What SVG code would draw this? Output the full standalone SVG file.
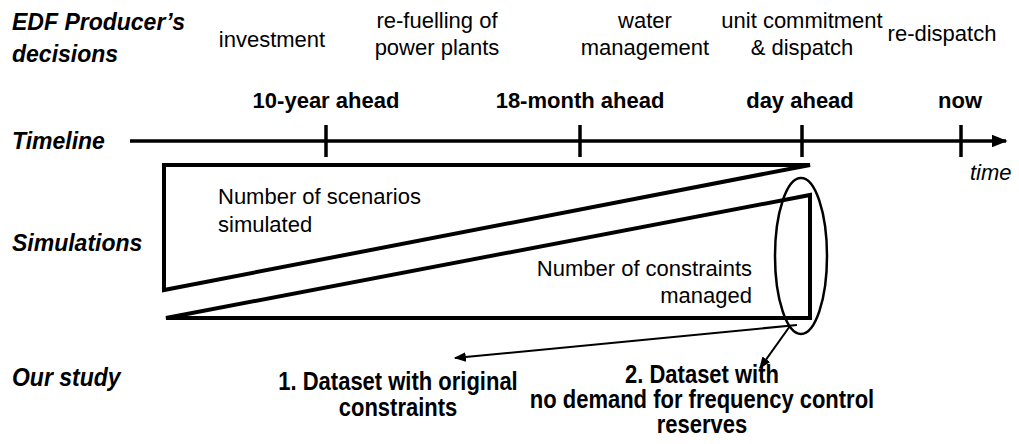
<svg xmlns="http://www.w3.org/2000/svg" width="1019" height="444" viewBox="0 0 1019 444">
<style>
text{font-family:"Liberation Sans",Arial,sans-serif;fill:#000}
.h{font-weight:bold;font-style:italic;font-size:23px}
.r{font-size:22px}
.b{font-weight:bold;font-size:22px}
.m{text-anchor:middle}
.shape{fill:none;stroke:#000;stroke-width:4;stroke-linejoin:miter}
.tick{stroke:#000;stroke-width:3.5}
.arr{stroke:#000;stroke-width:2;fill:none}
</style>
<defs>
<marker id="ah" viewBox="0 0 10 10" refX="9" refY="5" markerWidth="6" markerHeight="6" orient="auto" markerUnits="strokeWidth">
<path d="M0,1 L10,5 L0,9 Z" fill="#000"/>
</marker>
<marker id="ahT" viewBox="0 0 10 10" refX="9" refY="5" markerWidth="4.5" markerHeight="4.5" orient="auto" markerUnits="strokeWidth">
<path d="M0,1 L10,5 L0,9 Z" fill="#000"/>
</marker>
</defs>
<g id="row-labels">
<text class="h" x="12" y="30">EDF Producer’s</text>
<text class="h" x="12" y="62">decisions</text>
<text class="h" x="12" y="149">Timeline</text>
<text class="h" x="12" y="251">Simulations</text>
<text class="h" transform="translate(12,386) scale(1,1.1)" x="0" y="0">Our study</text>
</g>
<g id="decisions">
<text class="r m" x="272" y="47">investment</text>
<text class="r m" x="437" y="28">re-fuelling of</text>
<text class="r m" x="437" y="55">power plants</text>
<text class="r m" x="645" y="28">water</text>
<text class="r m" x="645" y="55">management</text>
<text class="r m" x="802" y="28">unit commitment</text>
<text class="r m" x="802" y="55">&amp; dispatch</text>
<text class="r m" x="942" y="41">re-dispatch</text>
</g>
<g id="timeline">
<line x1="130" y1="141" x2="1006" y2="141" stroke="#000" stroke-width="3.5" marker-end="url(#ahT)"/>
<line class="tick" x1="326" y1="125" x2="326" y2="157"/>
<line class="tick" x1="580" y1="125" x2="580" y2="157"/>
<line class="tick" x1="802" y1="125" x2="802" y2="157"/>
<line class="tick" x1="961" y1="125" x2="961" y2="157"/>
<text class="b m" x="326" y="108">10-year ahead</text>
<text class="b m" x="580" y="108">18-month ahead</text>
<text class="b m" x="800" y="108">day ahead</text>
<text class="b m" x="960" y="108">now</text>
<text class="r" x="970" y="180" font-style="italic" font-size="20">time</text>
</g>
<g id="scenarios">
<path class="shape" d="M164,165 L810,165 L164,290 Z"/>
<text class="r" x="218" y="204">Number of scenarios</text>
<text class="r" x="218" y="232">simulated</text>
</g>
<g id="constraints">
<path class="shape" d="M166,318 L810,195 L810,318 Z"/>
<text class="r" x="752" y="276" text-anchor="end">Number of constraints</text>
<text class="r" x="752" y="303" text-anchor="end">managed</text>
</g>
<g id="focus">
<ellipse cx="801" cy="256" rx="26" ry="78" fill="none" stroke="#000" stroke-width="2.5"/>
</g>
<g id="connectors">
<line class="arr" x1="797" y1="325" x2="455" y2="358" marker-end="url(#ah)"/>
<line class="arr" x1="790" y1="326" x2="760" y2="368" marker-end="url(#ah)"/>
</g>
<g id="dataset1">
<text class="b m" transform="translate(398,390) scale(1,1.15)" x="0" y="0">1. Dataset with original</text>
<text class="b m" transform="translate(398,416) scale(1,1.15)" x="0" y="0">constraints</text>
</g>
<g id="dataset2">
<text class="b m" transform="translate(702,383) scale(1,1.15)" x="0" y="0">2. Dataset with</text>
<text class="b m" transform="translate(702,408) scale(1,1.15)" x="0" y="0">no demand for frequency control</text>
<text class="b m" transform="translate(702,433) scale(1,1.15)" x="0" y="0">reserves</text>
</g>
</svg>
